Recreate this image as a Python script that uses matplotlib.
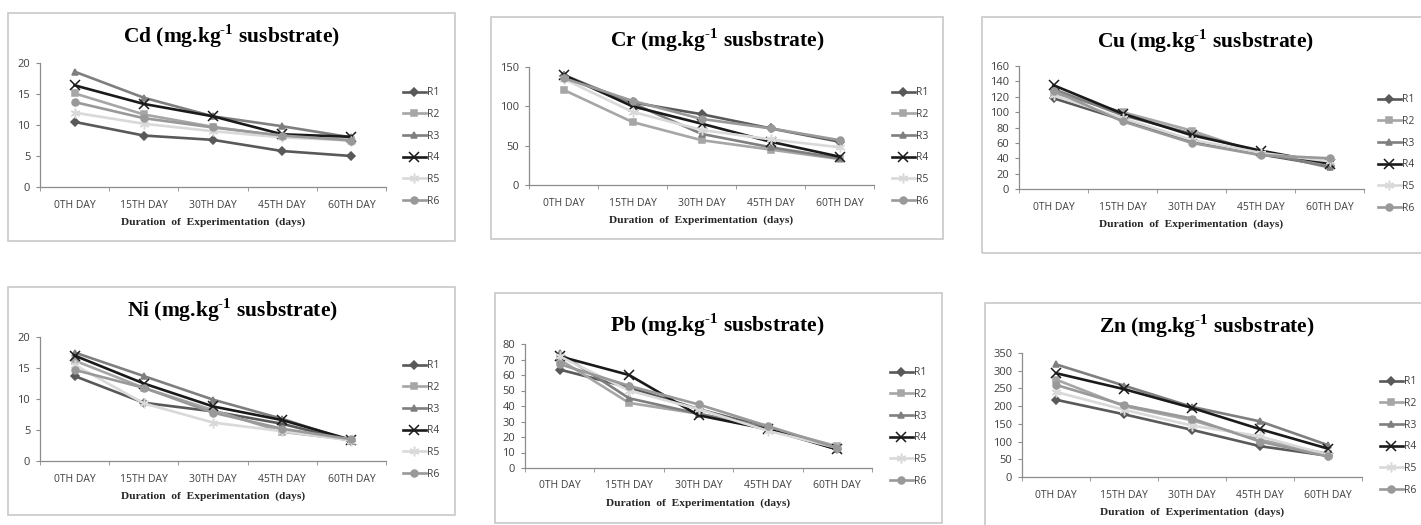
import matplotlib
matplotlib.use("Agg")
import matplotlib.pyplot as plt
from matplotlib.patches import Rectangle

plt.rcParams['mathtext.fontset'] = 'custom'
plt.rcParams['mathtext.rm'] = 'Liberation Serif:bold'
plt.rcParams['mathtext.bf'] = 'Liberation Serif:bold'

days = ["0TH DAY", "15TH DAY", "30TH DAY", "45TH DAY", "60TH DAY"]
series = ["R1", "R2", "R3", "R4", "R5", "R6"]
metals = ["Cd", "Cr", "Cu", "Ni", "Pb", "Zn"]

cd = [[10.5, 8.3, 7.6, 5.8, 5.0],
      [15.1, 11.7, 9.7, 8.2, 7.6],
      [18.6, 14.4, 11.4, 9.8, 8.0],
      [16.4, 13.4, 11.4, 8.5, 8.1],
      [12.0, 10.2, 9.0, 8.0, 7.5],
      [13.7, 11.1, 9.6, 8.3, 7.5]]
cr = [[138, 105, 90, 72, 55],
      [121, 80, 57, 45, 33],
      [140, 104, 65, 48, 34],
      [140, 100, 78, 55, 36],
      [135, 93, 70, 58, 48],
      [136, 107, 84, 72, 57]]
cu = [[118, 90, 62, 45, 30],
      [125, 100, 76, 46, 32],
      [130, 96, 72, 48, 28],
      [135, 98, 70, 50, 33],
      [122, 92, 64, 47, 36],
      [128, 88, 60, 44, 40]]
ni = [[13.7, 9.4, 8.0, 6.0, 3.2],
      [16.2, 11.8, 8.2, 4.7, 3.4],
      [17.5, 13.7, 9.9, 6.8, 3.2],
      [17.0, 12.5, 8.8, 6.6, 3.4],
      [15.5, 9.3, 6.2, 4.8, 3.3],
      [14.7, 11.8, 7.8, 5.2, 3.5]]
pb = [[63.5, 52, 38, 26, 12],
      [70, 42, 35, 26, 14],
      [74, 45, 35, 26, 12],
      [72, 60, 34, 25, 12],
      [72, 50, 38, 24, 13],
      [67, 53, 41, 27, 13]]
zn = [[218, 177, 133, 87, 60],
      [275, 200, 160, 105, 65],
      [318, 258, 198, 157, 90],
      [293, 248, 195, 135, 80],
      [240, 190, 145, 115, 62],
      [260, 203, 165, 100, 58]]
values = [cd, cr, cu, ni, pb, zn]

ymax = [20, 150, 160, 20, 80, 350]
ystep = [5, 50, 20, 5, 10, 50]

colors = ["#595959", "#a6a6a6", "#7f7f7f", "#1a1a1a", "#d9d9d9", "#999999"]
markers = ["D", "s", "^", "x", (6, 2, 0), "o"]
msizes = [4, 4.5, 5, 7, 7, 5]

# pixel layout: box (x0, y0, x1, y1), axes (l, t, r, b), legend (x, yc), title (cx, cy)
W, H = 1421, 525
layout = [
    ((8, 13, 455, 241), (40, 63, 386, 187), (403, 147), (231, 36)),
    ((491, 17, 943, 239), (529, 67, 874, 185), (892, 147), (717, 40)),
    ((982, 17, 1440, 253), (1019, 66, 1364, 189), (1378, 154), (1205, 41)),
    ((8, 287, 455, 515), (40, 337, 386, 461), (403, 420), (232, 310)),
    ((495, 293, 942, 523), (525, 344, 872, 468), (890, 427), (717, 325)),
    ((985, 303, 1440, 540), (1022, 353, 1362, 477), (1380, 436), (1207, 326)),
]

fig = plt.figure(figsize=(W / 100, H / 100), dpi=100)

for k in range(6):
    box, axp, leg, tit = layout[k]
    fig.add_artist(Rectangle((box[0] / W, 1 - box[3] / H), (box[2] - box[0]) / W,
                             (box[3] - box[1]) / H, transform=fig.transFigure,
                             fill=False, edgecolor="#c8c8c8", linewidth=1.2))
    ax = fig.add_axes([axp[0] / W, 1 - axp[3] / H, (axp[2] - axp[0]) / W, (axp[3] - axp[1]) / H])
    x = list(range(len(days)))
    for i in range(6):
        ax.plot(x, values[k][i], color=colors[i], marker=markers[i], markersize=msizes[i],
                linewidth=1.9, markeredgewidth=1.1, label=series[i])
    ax.set_xlim(-0.5, len(days) - 0.5)
    ax.set_ylim(0, ymax[k])
    ax.set_yticks(range(0, ymax[k] + 1, ystep[k]))
    ax.set_xticks(x)
    ax.set_xticklabels(days)
    ax.set_xticks([v - 0.5 for v in range(len(days) + 1)], minor=True)
    for s in ["top", "right"]:
        ax.spines[s].set_visible(False)
    for s in ["left", "bottom"]:
        ax.spines[s].set_color("#8c8c8c")
        ax.spines[s].set_linewidth(0.9)
    ax.tick_params(axis="x", which="major", length=0, pad=9, labelsize=7.5, labelcolor="#404040")
    ax.tick_params(axis="x", which="minor", length=3, color="#8c8c8c")
    ax.tick_params(axis="y", length=3, color="#8c8c8c", pad=4, labelsize=8, labelcolor="#404040")
    for t in ax.get_xticklabels() + ax.get_yticklabels():
        t.set_fontfamily("Open Sans")
    ax.set_xlabel("Duration  of  Experimentation  (days)", fontfamily="Liberation Serif",
                  fontweight="bold", fontsize=8.2, color="#262626", labelpad=5)
    fig.text(tit[0] / W, 1 - tit[1] / H, metals[k] + r" (mg.kg$^{\text{-}1}$ susbstrate)",
             ha="center", va="center", fontfamily="Liberation Serif", fontweight="bold",
             fontsize=15.5)
    lg = ax.legend(loc="center left", bbox_to_anchor=(leg[0] / W, 1 - leg[1] / H),
                   bbox_transform=fig.transFigure, frameon=False, fontsize=7.5,
                   handlelength=2.2, handletextpad=0.1, labelspacing=1.02,
                   borderpad=0, borderaxespad=0)
    for t in lg.get_texts():
        t.set_fontfamily("Open Sans")
        t.set_color("#404040")

fig.savefig("out.png", dpi=100)
